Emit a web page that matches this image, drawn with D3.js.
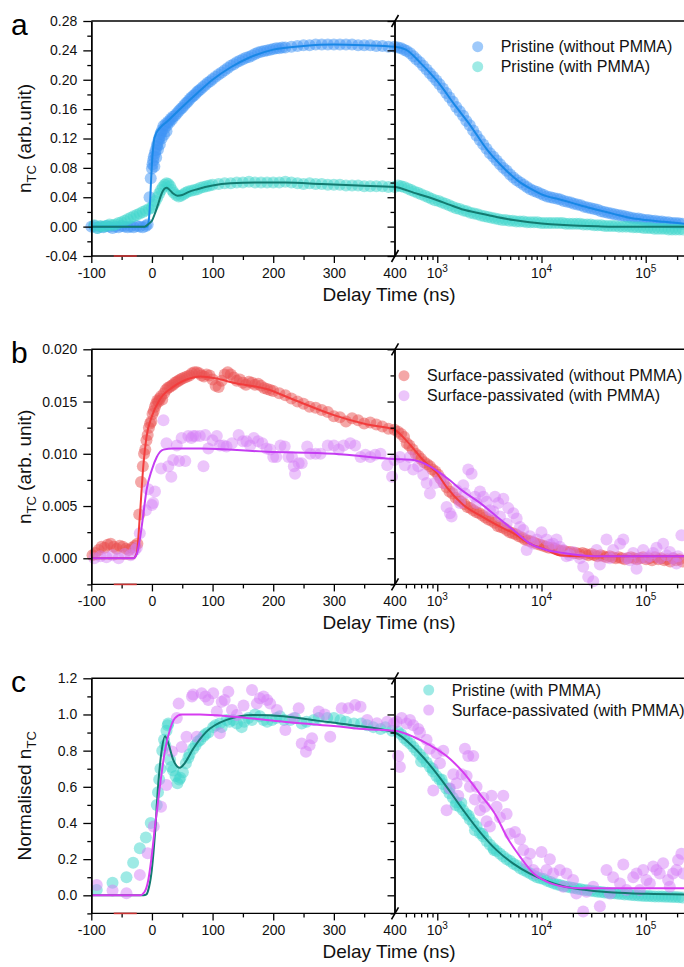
<!DOCTYPE html>
<html>
<head>
<meta charset="utf-8">
<script src="https://cdn.jsdelivr.net/npm/d3@7"></script>
<style>
  body { margin: 0; background: #fff; }
  svg { display: block; font-family: "Liberation Sans", Arial, sans-serif; }
</style>
</head>
<body>
<div id="chart"></div>
<script>
// ---- data: [delay time (ns), value] ----

// a: Pristine (without PMMA)
const aPristineNoPmma = [
  [-100,0.000],[-95,0.001],[-90,-0.002],[-85,0.000],[-80,-0.001],[-75,0.001],[-70,0.000],[-65,-0.002],
  [-60,0.000],[-55,-0.001],[-50,0.001],[-45,0.000],[-40,-0.001],[-35,0.000],[-30,-0.001],[-25,0.001],
  [-20,0.000],[-15,-0.001],[-10,0.001],[-7,0.003],
  [-4,0.040],[-2,0.066],[0,0.079],[1,0.085],[2,0.090],[3,0.095],[4,0.082],[5,0.100],[6,0.104],[7,0.094],
  [8,0.109],[9,0.113],[10,0.105],[11,0.118],[12,0.121],[13,0.112],[14,0.126],[15,0.128],[16,0.120],
  [17,0.132],[19,0.137],[20,0.125],[21,0.134],[23,0.140],[24,0.130],[25,0.138],[27,0.143],[29,0.142],
  [31,0.147],[33,0.146],[35,0.150],[38,0.151],[41,0.154],[44,0.157],[47,0.160],[50,0.162],[53,0.165],
  [56,0.168],[59,0.170],[62,0.173],[65,0.176],[68,0.178],[71,0.180],[74,0.183],[77,0.185],[80,0.187],
  [84,0.190],[88,0.193],[92,0.196],[96,0.198],[100,0.201],[105,0.204],[110,0.207],[115,0.210],[120,0.213],
  [125,0.216],[130,0.219],[135,0.221],[140,0.224],[145,0.226],[150,0.228],[155,0.230],[160,0.231],
  [165,0.233],[170,0.235],[175,0.237],[180,0.238],[185,0.239],[190,0.240],[195,0.241],[200,0.242],
  [205,0.243],[210,0.243],[215,0.244],[220,0.244],[230,0.245],[240,0.246],[250,0.247],[260,0.247],
  [270,0.248],[280,0.248],[290,0.248],[300,0.248],[310,0.248],[320,0.248],[330,0.248],[340,0.247],
  [350,0.247],[360,0.247],[370,0.246],[380,0.246],[390,0.245],[400,0.245],
  [420,0.244],[450,0.243],[480,0.241],[510,0.239],[550,0.236],[590,0.232],[630,0.228],[680,0.224],
  [730,0.219],[790,0.214],[850,0.209],[910,0.204],[980,0.199],[1050,0.194],[1130,0.188],[1220,0.182],
  [1310,0.176],[1410,0.170],[1520,0.163],[1640,0.157],[1770,0.151],[1900,0.144],[2050,0.138],[2210,0.131],
  [2380,0.124],[2560,0.118],[2760,0.112],[2970,0.106],[3200,0.100],[3450,0.095],[3710,0.090],[4000,0.085],
  [4300,0.080],[4640,0.076],[5000,0.071],[5380,0.067],[5800,0.063],[6250,0.060],[6730,0.057],[7250,0.054],
  [7810,0.051],[8410,0.049],[9060,0.047],[9760,0.045],[10500,0.043],[11300,0.041],[12200,0.040],
  [13100,0.039],[14200,0.038],[15200,0.037],[16400,0.035],[17700,0.034],[19100,0.033],[20500,0.031],
  [22100,0.030],[23800,0.029],[25700,0.027],[27700,0.026],[29800,0.025],[32100,0.024],[34600,0.023],
  [37300,0.021],[40200,0.020],[43300,0.019],[46700,0.018],[50300,0.017],[54200,0.016],[58400,0.015],
  [62900,0.014],[67800,0.013],[73000,0.012],[78700,0.011],[84800,0.011],[91400,0.010],[98500,0.009],
  [106000,0.009],[114000,0.008],[123000,0.008],[133000,0.007],[143000,0.007],[154000,0.006],
  [166000,0.006],[179000,0.005],[193000,0.005],[208000,0.0045],[224000,0.004]
];
const aPristineNoPmmaFit = [
  [-100,0],[-8,0],[-5,0.010],[-3,0.035],[-1,0.070],[1,0.098],[3,0.115],[6,0.125],[10,0.131],[15,0.136],
  [25,0.143],[35,0.151],[50,0.163],[75,0.182],[100,0.200],[130,0.217],[160,0.230],[200,0.241],[250,0.246],
  [300,0.248],[350,0.247],[400,0.245],[500,0.241],[700,0.222],[1000,0.198],[1500,0.164],[2000,0.141],
  [3000,0.105],[4000,0.085],[6000,0.062],[8000,0.051],[10000,0.044],[15000,0.037],[20000,0.032],
  [30000,0.025],[50000,0.017],[70000,0.012],[100000,0.009],[150000,0.0065],[233000,0.004]
];

// a: Pristine (with PMMA)
const aPristinePmma = [
  [-95,0.002],[-90,-0.002],[-85,0.001],[-80,0.000],[-75,0.001],[-70,0.003],[-65,0.002],[-60,0.003],
  [-55,0.005],[-50,0.006],[-45,0.008],[-40,0.010],[-35,0.012],[-30,0.014],[-25,0.016],[-20,0.018],
  [-15,0.020],[-10,0.022],[-5,0.024],[0,0.026],[3,0.030],[6,0.035],[9,0.040],[12,0.045],[15,0.050],
  [18,0.054],[21,0.057],[24,0.059],[27,0.058],[30,0.055],[33,0.050],[36,0.046],[40,0.043],[44,0.041],
  [48,0.042],[52,0.044],[56,0.046],[60,0.048],[65,0.049],[70,0.050],[75,0.051],[80,0.053],[85,0.054],
  [90,0.055],[95,0.056],[100,0.057],[110,0.058],[120,0.059],[130,0.059],[140,0.060],[150,0.060],
  [160,0.061],[170,0.060],[180,0.060],[190,0.060],[200,0.060],[210,0.060],[220,0.061],[230,0.060],
  [240,0.059],[250,0.058],[260,0.059],[270,0.058],[280,0.058],[290,0.057],[300,0.057],[310,0.057],
  [320,0.056],[330,0.056],[340,0.056],[350,0.055],[360,0.055],[370,0.055],[380,0.055],[390,0.054],
  [400,0.054],
  [420,0.056],[450,0.055],[480,0.054],[520,0.052],[560,0.050],[600,0.048],[650,0.046],[700,0.044],
  [760,0.042],[820,0.040],[880,0.038],[950,0.036],[1030,0.035],[1110,0.033],[1200,0.031],[1300,0.029],
  [1400,0.027],[1520,0.025],[1640,0.024],[1780,0.022],[1920,0.021],[2080,0.019],[2250,0.018],
  [2430,0.017],[2630,0.015],[2840,0.014],[3070,0.013],[3320,0.012],[3590,0.011],[3880,0.010],
  [4200,0.009],[4540,0.009],[4910,0.008],[5310,0.008],[5740,0.007],[6200,0.007],[6710,0.007],
  [7250,0.006],[7840,0.006],[8480,0.006],[9170,0.006],[9910,0.005],[10700,0.005],[11600,0.005],
  [12500,0.005],[13600,0.005],[14700,0.005],[15900,0.005],[17100,0.004],[18500,0.004],[20000,0.004],
  [21700,0.004],[23400,0.004],[25300,0.003],[27400,0.003],[29600,0.003],[32000,0.002],[34600,0.002],
  [37500,0.002],[40500,0.001],[43800,0.001],[47400,0.001],[51200,0.001],[55400,0.000],[59900,0.000],
  [64800,0.000],[70000,0.000],[75700,-0.001],[81900,-0.001],[88600,-0.001],[95800,-0.002],
  [104000,-0.002],[112000,-0.002],[121000,-0.003],[131000,-0.003],[142000,-0.003],[153000,-0.003],
  [166000,-0.004],[179000,-0.004],[194000,-0.004],[210000,-0.004],[227000,-0.004]
];
const aPristinePmmaFit = [
  [-100,0],[-12,0],[-5,0.004],[0,0.008],[5,0.018],[10,0.030],[15,0.043],[20,0.051],[24,0.053],[28,0.051],
  [35,0.045],[42,0.042],[50,0.043],[60,0.047],[75,0.051],[100,0.056],[130,0.059],[170,0.060],[220,0.060],
  [280,0.058],[340,0.056],[400,0.054],[600,0.046],[1000,0.036],[1300,0.030],[1800,0.023],[2600,0.018],
  [3700,0.013],[5400,0.009],[7700,0.006],[10000,0.0044],[15000,0.0025],[23000,0.0012],[35000,0.0004],
  [50000,0.0],[233000,0.0]
];

// b: Surface-passivated (without PMMA)
const bPassivNoPmma = [
  [-98,0.0003],[-93,0.0005],[-88,0.0008],[-83,0.0011],[-78,0.0010],[-73,0.0013],[-68,0.0014],[-63,0.0011],
  [-58,0.0009],[-53,0.0012],[-48,0.0011],[-43,0.0009],[-38,0.0008],[-33,0.0010],[-28,0.0012],[-24,0.0014],
  [-21,0.0042],[-18,0.0073],[-15,0.0088],[-13,0.0100],[-11,0.0104],[-9,0.0113],[-7,0.0118],[-5,0.0125],
  [-3,0.0129],[-1,0.0131],[1,0.0138],[3,0.0141],[5,0.0145],[7,0.0148],[9,0.0151],[11,0.0150],[13,0.0153],
  [15,0.0155],[17,0.0152],[20,0.0158],[23,0.0161],[26,0.0163],[29,0.0164],[32,0.0165],[35,0.0166],
  [38,0.0168],[41,0.0169],[44,0.0170],[47,0.0171],[50,0.0172],[54,0.0173],[58,0.0174],[62,0.0175],
  [66,0.0177],[70,0.0178],[74,0.0178],[78,0.0177],[82,0.0175],[86,0.0174],[90,0.0176],[95,0.0175],
  [100,0.0171],[105,0.0165],[110,0.0164],[115,0.0170],[120,0.0176],[125,0.0178],[130,0.0176],[135,0.0173],
  [140,0.0170],[145,0.0171],[150,0.0168],[155,0.0166],[160,0.0169],[165,0.0168],[170,0.0166],[175,0.0167],
  [180,0.0165],[185,0.0163],[190,0.0162],[195,0.0161],[200,0.0160],[210,0.0158],[220,0.0156],[230,0.0153],
  [240,0.0150],[250,0.0148],[260,0.0145],[270,0.0144],[280,0.0142],[290,0.0140],[300,0.0136],[310,0.0135],
  [320,0.0131],[330,0.0134],[340,0.0132],[350,0.0129],[360,0.0130],[370,0.0128],[380,0.0126],[390,0.0124],
  [400,0.0123],
  [420,0.0121],[450,0.0119],[480,0.0116],[510,0.0110],[540,0.0108],[580,0.0104],[620,0.0100],[660,0.0098],
  [700,0.0095],[750,0.0092],[800,0.0090],[850,0.0088],[900,0.0085],[960,0.0083],[1020,0.0080],[1080,0.0076],
  [1150,0.0072],[1230,0.0068],[1310,0.0064],[1400,0.0062],[1500,0.0058],[1600,0.0056],[1700,0.0054],
  [1820,0.0052],[1950,0.0049],[2080,0.0048],[2220,0.0046],[2380,0.0044],[2540,0.0043],[2720,0.0041],
  [2900,0.0039],[3100,0.0037],[3320,0.0036],[3550,0.0034],[3800,0.0031],[4060,0.0030],[4340,0.0029],
  [4640,0.0027],[4960,0.0025],[5300,0.0024],[5670,0.0023],[6060,0.0021],[6480,0.0020],[6930,0.0018],
  [7410,0.0017],[7920,0.0016],[8470,0.0015],[9060,0.0014],[9690,0.0013],[10400,0.0012],[11100,0.0011],
  [11800,0.0010],[12700,0.0010],[13500,0.0009],[14500,0.0008],[15500,0.0007],[16500,0.0007],[17700,0.0006],
  [18900,0.0006],[20200,0.0005],[21600,0.0005],[23100,0.0004],[24700,0.0005],[26400,0.0004],[28200,0.0003],
  [30200,0.0004],[32300,0.0003],[34500,0.0002],[36900,0.0003],[39400,0.0002],[42200,0.0001],[45100,0.0002],
  [48200,0.0001],[51600,0.0000],[55100,0.0001],[58900,0.0000],[63000,-0.0001],[67400,0.0000],[72100,0.0001],
  [77100,0.0000],[82400,-0.0001],[88100,0.0000],[94200,0.0001],[101000,-0.0001],[108000,0.0000],
  [115000,-0.0002],[123000,0.0001],[132000,-0.0001],[141000,0.0000],[151000,-0.0002],[161000,-0.0001],
  [172000,-0.0003],[184000,0.0000],[197000,-0.0002],[211000,-0.0001],[225000,-0.0003]
];
const bPassivNoPmmaFit = [
  [-100,0],[-31,0],[-25,0.0005],[-20,0.0040],[-14,0.0090],[-9,0.0116],[0,0.0136],[13,0.0152],[35,0.0164],
  [68,0.0173],[80,0.0174],[107,0.0172],[134,0.0168],[189,0.0162],[233,0.0152],[300,0.0137],[355,0.0128],
  [400,0.0123],[480,0.0115],[590,0.0105],[730,0.0094],[850,0.0088],[1000,0.0081],[1230,0.0068],
  [1780,0.0051],[2570,0.0041],[3710,0.0032],[5360,0.0024],[7750,0.0014],[11200,0.0008],[15000,0.0003],
  [23400,0.0002],[233000,0.0002]
];

// b: Surface-passivated (with PMMA)
const bPassivPmma = [
  [-95,0.0000],[-85,0.0002],[-75,0.0001],[-65,0.0003],[-55,0.0000],[-45,0.0004],[-35,0.0003],[-28,0.0008],
  [-25,0.0010],[-20,0.0024],[-10,0.0046],[-6,0.0066],[0,0.0051],[2,0.0053],[5,0.0064],[15,0.0086],
  [19,0.0132],[24,0.0110],[27,0.0088],[32,0.0078],[35,0.0094],[41,0.0108],[45,0.0093],[49,0.0115],
  [55,0.0093],[60,0.0117],[65,0.0115],[68,0.0117],[72,0.0117],[79,0.0117],[85,0.0088],[88,0.0118],
  [93,0.0105],[100,0.0113],[107,0.0117],[112,0.0108],[118,0.0108],[123,0.0107],[132,0.0110],[143,0.0118],
  [150,0.0112],[156,0.0112],[162,0.0108],[168,0.0115],[175,0.0112],[182,0.0110],[189,0.0105],[195,0.0104],
  [200,0.0097],[205,0.0097],[212,0.0108],[219,0.0107],[225,0.0097],[231,0.0097],[234,0.0088],[236,0.0081],
  [242,0.0091],[247,0.0091],[256,0.0107],[261,0.0100],[270,0.0100],[278,0.0100],[290,0.0108],[300,0.0108],
  [308,0.0104],[316,0.0108],[327,0.0110],[335,0.0108],[344,0.0097],[352,0.0099],[360,0.0097],[368,0.0099],
  [377,0.0100],[388,0.0089],[396,0.0078],
  [400,0.0094],[438,0.0097],[489,0.0089],[546,0.0097],[588,0.0085],[657,0.0088],[734,0.0080],[790,0.0072],
  [850,0.0062],[950,0.0072],[1061,0.0077],[1142,0.0072],[1229,0.0049],[1323,0.0043],[1373,0.0040],
  [1533,0.0065],[1650,0.0053],[1776,0.0070],[1843,0.0062],[1983,0.0085],[2135,0.0081],[2298,0.0059],
  [2383,0.0053],[2568,0.0064],[2765,0.0059],[2973,0.0054],[3200,0.0046],[3443,0.0045],[3576,0.0059],
  [3848,0.0053],[3997,0.0040],[4300,0.0057],[4630,0.0033],[4806,0.0048],[5370,0.0043],[5780,0.0038],
  [6220,0.0030],[6690,0.0027],[7206,0.0008],[7760,0.0021],[8346,0.0014],[9000,0.0018],[10000,0.0025],
  [11180,0.0018],[12030,0.0013],[12940,0.0014],[13950,0.0018],[14990,0.0011],[16160,0.0008],[17360,0.0002],
  [18710,0.0003],[20100,0.0006],[23400,0.0000],[25120,-0.0008],[28070,-0.0018],[31360,-0.0022],
  [33750,0.0008],[36310,-0.0006],[42050,0.0018],[45280,0.0000],[48700,0.0008],[56680,0.0014],
  [60920,0.0018],[65500,0.0000],[70550,-0.0002],[75830,0.0005],[81700,-0.0010],[87800,0.0000],
  [94600,0.0008],[101700,0.0000],[109600,0.0002],[117800,0.0005],[126900,0.0010],[136400,0.0000],
  [147000,0.0014],[158000,0.0003],[170300,0.0006],[182900,0.0000],[197200,-0.0005],[204400,0.0002],
  [220000,0.0022]
];
const bPassivPmmaFit = [
  [-100,0],[-31,0],[-25,0.0004],[-20,0.0018],[-14,0.0043],[-9,0.0065],[0,0.0085],[8,0.0097],[19,0.0104],
  [35,0.0105],[80,0.0105],[189,0.0102],[300,0.0100],[400,0.0095],[590,0.0094],[850,0.0088],[1230,0.0077],
  [1780,0.0064],[2570,0.0053],[3710,0.0040],[5360,0.0027],[7750,0.0014],[11200,0.0008],[16200,0.0005],
  [23400,0.0003],[35000,0.0002],[233000,0.0002]
];

// c: Pristine (with PMMA), normalised
const cPristinePmma = [
  [-91,0.03],[-65,0.07],[-42,0.10],[-31,0.18],[-20,0.26],[-10,0.32],[-2,0.40],[8,0.50],[10,0.57],[12,0.64],
  [14,0.70],[17,0.80],[20,0.86],[22,0.83],[24,0.91],[26,0.94],[27,0.95],[30,0.75],[32,0.71],[35,0.69],
  [39,0.66],[42,0.62],[45,0.64],[47,0.65],[51,0.68],[56,0.73],[60,0.76],[62,0.78],[68,0.81],[72,0.83],
  [76,0.85],[80,0.86],[85,0.88],[88,0.89],[93,0.90],[101,0.93],[105,0.94],[112,0.95],[115,0.93],[123,0.97],
  [128,0.96],[134,0.97],[140,0.95],[148,0.93],[152,0.96],[159,0.98],[165,0.97],[170,1.00],[178,0.99],
  [184,0.97],[190,0.96],[198,0.97],[205,0.98],[211,0.99],[218,0.97],[228,0.97],[236,0.98],[247,0.95],
  [255,0.96],[267,0.97],[275,0.98],[289,0.98],[300,0.98],[311,0.97],[320,0.96],[333,0.95],[345,0.95],
  [355,0.94],[365,0.93],[377,0.92],[385,0.93],[396,0.91],
  [420,0.905],[450,0.89],[480,0.87],[510,0.855],[550,0.84],[590,0.82],[630,0.80],[680,0.78],[700,0.74],
  [730,0.76],[790,0.735],[850,0.71],[900,0.70],[910,0.685],[980,0.66],[1050,0.64],[1100,0.64],[1130,0.615],
  [1220,0.59],[1300,0.59],[1310,0.565],[1410,0.54],[1500,0.50],[1520,0.515],[1640,0.49],[1700,0.51],
  [1770,0.47],[1900,0.45],[2000,0.44],[2050,0.42],[2210,0.40],[2300,0.36],[2380,0.38],[2560,0.345],
  [2700,0.34],[2760,0.325],[2970,0.30],[3200,0.28],[3450,0.26],[3500,0.25],[3710,0.245],[4000,0.23],
  [4300,0.215],[4640,0.20],[5000,0.19],[5380,0.175],[5800,0.165],[6250,0.15],[6730,0.14],[7250,0.13],
  [7810,0.12],[8410,0.11],[9060,0.10],[9760,0.095],[10500,0.09],[11300,0.08],[12200,0.073],[13100,0.066],
  [14200,0.06],[15200,0.056],[16400,0.05],[17700,0.047],[19100,0.043],[20500,0.04],[22100,0.036],
  [23800,0.033],[25700,0.03],[27700,0.028],[29800,0.025],[32100,0.022],[34600,0.02],[37300,0.018],
  [40200,0.016],[43300,0.014],[46700,0.012],[50300,0.011],[54200,0.009],[58400,0.007],[62900,0.005],
  [67800,0.004],[73000,0.002],[78700,0.0],[84800,-0.001],[91400,-0.002],[98500,-0.004],[106000,-0.004],
  [114000,-0.005],[123000,-0.006],[133000,-0.006],[143000,-0.007],[154000,-0.008],[166000,-0.008],
  [179000,-0.009],[193000,-0.010],[208000,-0.011],[224000,-0.012]
];
const cPristinePmmaFit = [
  [-100,0],[-14,0],[-9,0.005],[-6,0.03],[-1,0.12],[5,0.34],[10.5,0.62],[16,0.80],[21.5,0.88],[27,0.84],
  [35,0.75],[46,0.705],[54,0.73],[68,0.81],[90,0.905],[123,0.97],[167,0.997],[217,0.99],[272,0.966],
  [327,0.942],[400,0.90],[590,0.82],[850,0.72],[1230,0.60],[1780,0.47],[2570,0.35],[3710,0.25],
  [5360,0.175],[7750,0.12],[11200,0.08],[16200,0.05],[23400,0.033],[48800,0.015],[102000,0.008],
  [233000,0.005]
];

// c: Surface-passivated (with PMMA), normalised
const cPassivPmma = [
  [-91,0.057],[-65,0.026],[-42,0.011],[-20,0.113],[-7,0.232],[3,0.38],[15,0.49],[24,0.61],[33,0.795],
  [41,0.98],[44,1.06],[49,0.82],[57,0.877],[66,1.10],[68,1.11],[74,0.877],[82,1.117],[88,1.10],[93,1.08],
  [101,1.117],[107,1.016],[112,0.896],[115,1.07],[120,1.08],[126,1.126],[132,1.025],[140,0.997],[151,1.05],
  [165,1.135],[173,1.06],[178,1.09],[184,1.10],[190,1.08],[195,1.06],[206,1.025],[220,0.914],[233,0.979],
  [242,1.034],[247,0.84],[254,0.794],[260,0.83],[264,0.868],[275,1.016],[285,1.00],[294,0.877],[313,1.034],
  [324,1.034],[335,1.052],[344,1.043],[355,0.97],[371,0.951],[388,0.96],[399,0.951],
  [407,0.96],[422,0.77],[438,0.71],[455,0.98],[508,0.95],[547,0.97],[588,0.94],[657,0.92],[682,0.90],
  [790,0.86],[850,0.81],[915,0.58],[985,0.785],[1061,0.73],[1142,0.80],[1229,0.47],[1323,0.59],
  [1424,0.67],[1533,0.62],[1590,0.55],[1713,0.67],[1843,0.81],[1913,0.66],[1983,0.77],[2058,0.60],
  [2215,0.77],[2298,0.53],[2383,0.60],[2568,0.47],[2765,0.54],[2870,0.49],[2973,0.41],[3200,0.38],
  [3322,0.55],[3710,0.49],[3997,0.43],[4300,0.55],[4630,0.45],[4980,0.34],[5570,0.35],[6220,0.31],
  [6690,0.25],[7206,0.18],[7760,0.23],[8346,0.14],[9000,0.12],[10000,0.24],[11180,0.14],[12030,0.20],
  [12940,0.12],[14990,0.14],[16160,0.048],[17360,0.12],[20100,0.085],[21600,0.01],[25120,-0.09],
  [27050,0.02],[31360,0.048],[36310,-0.06],[42050,0.14],[45280,0.01],[48700,0.10],[56680,0.066],
  [60920,0.17],[65500,0.03],[75830,0.10],[81700,0.12],[87800,0.03],[94600,0.14],[101700,0.085],
  [109600,0.066],[117800,0.16],[126900,0.14],[136400,0.12],[147000,0.177],[164000,0.085],[170300,0.048],
  [182900,0.12],[197200,0.14],[204400,0.195],[220000,0.23],[230000,0.12]
];
const cPassivPmmaFit = [
  [-100,0],[-20,0],[-12,0.02],[-6,0.085],[-0.5,0.214],[5,0.38],[13,0.60],[21.5,0.80],[30,0.92],[38,0.98],
  [49,1.0],[79,1.0],[134,0.988],[189,0.97],[245,0.951],[300,0.936],[355,0.918],[400,0.91],[589,0.877],
  [850,0.83],[1229,0.77],[1776,0.68],[2568,0.56],[3710,0.435],[4630,0.325],[6220,0.214],[8350,0.122],
  [11200,0.076],[16200,0.048],[23400,0.039],[233000,0.039]
];

// axis ticks
const xLinTicks = [-100, 0, 100, 200, 300, 400];
const xLinMinor = [-50, 50, 150, 250, 350];
const xLogMajor = [1e3, 1e4, 1e5];
const xLogMinor = [500,600,700,800,900,2000,3000,4000,5000,6000,7000,8000,9000,
                   20000,30000,40000,50000,60000,70000,80000,90000,200000];
const aYTicks = [-0.04, 0, 0.04, 0.08, 0.12, 0.16, 0.20, 0.24, 0.28];
const aYMinor = [-0.02, 0.02, 0.06, 0.10, 0.14, 0.18, 0.22, 0.26];
const bYTicks = [0, 0.005, 0.010, 0.015, 0.020];
const bYMinor = [-0.0025, 0.0025, 0.0075, 0.0125, 0.0175];
const cYTicks = [0, 0.2, 0.4, 0.6, 0.8, 1.0, 1.2];
const cYMinor = [-0.1, 0.1, 0.3, 0.5, 0.7, 0.9, 1.1];
const redMarkRange = [-63, -25];

// ---- layout ----
const W = 684, H = 967;
const xLeft = 91.3;
const xLin = d3.scaleLinear().domain([-100, 400]).range([xLeft, 394.5]);
const xLog = d3.scaleLog().domain([400, 233000]).range([395.8, 684]);
const xBreak = xLin(400);
function xPos(t) { return t <= 400 ? xLin(t) : xLog(t); }

const svg = d3.select("#chart").append("svg")
  .attr("width", W).attr("height", H);

const panels = [
  {
    letter: "a", top: 21, bottom: 256, domain: [-0.04, 0.28],
    ticks: aYTicks, minor: aYMinor, fmt: d => d.toFixed(2),
    title: ["n", "TC", " (arb.unit)"],
    legend: { x: 477.7, y: 46.7 },
    series: [
      { name: "Pristine (without PMMA)", pts: aPristineNoPmma, fit: aPristineNoPmmaFit,
        color: "#3d94f5", alpha: 0.5, line: "#1887e6" },
      { name: "Pristine (with PMMA)", pts: aPristinePmma, fit: aPristinePmmaFit,
        color: "#3dd6cc", alpha: 0.5, line: "#137a70" }
    ]
  },
  {
    letter: "b", top: 349.3, bottom: 584.4, domain: [-0.0025, 0.020],
    ticks: bYTicks, minor: bYMinor, fmt: d => d.toFixed(3),
    title: ["n", "TC", " (arb. unit)"],
    legend: { x: 404, y: 375.7 },
    series: [
      { name: "Surface-passivated (without PMMA)", pts: bPassivNoPmma, fit: bPassivNoPmmaFit,
        color: "#ea4f4f", alpha: 0.5, line: "#f23c3c" },
      { name: "Surface-passivated (with PMMA)", pts: bPassivPmma, fit: bPassivPmmaFit,
        color: "#d57ff7", alpha: 0.45, line: "#c43cf2" }
    ]
  },
  {
    letter: "c", top: 678.3, bottom: 913.4, domain: [-0.1, 1.2],
    ticks: cYTicks, minor: cYMinor, fmt: d => d.toFixed(1),
    title: ["Normalised n", "TC", ""],
    legend: { x: 428.7, y: 690 },
    series: [
      { name: "Pristine (with PMMA)", pts: cPristinePmma, fit: cPristinePmmaFit,
        color: "#3dd6cc", alpha: 0.5, line: "#137a70" },
      { name: "Surface-passivated (with PMMA)", pts: cPassivPmma, fit: cPassivPmmaFit,
        color: "#d57ff7", alpha: 0.5, line: "#d63cf0" }
    ]
  }
];

function styleAxis(g) {
  g.selectAll(".domain").attr("stroke", "#000").attr("stroke-width", 1.4);
  g.selectAll(".tick line").attr("stroke", "#000").attr("stroke-width", 1.3);
  g.selectAll(".tick text").attr("fill", "#111").attr("font-size", 14)
    .attr("font-family", "Liberation Sans, Arial, sans-serif");
}

function drawPanel(p) {
  const g = svg.append("g");
  const y = d3.scaleLinear().domain(p.domain).range([p.bottom, p.top]);

  // scatter points
  p.series.forEach(s => {
    g.append("g").selectAll("circle").data(s.pts).join("circle")
      .attr("cx", d => xPos(d[0]))
      .attr("cy", d => y(d[1]))
      .attr("r", 6)
      .attr("fill", s.color)
      .attr("fill-opacity", s.alpha);
  });

  // fitted curves
  const line = d3.line()
    .x(d => xPos(d[0]))
    .y(d => y(d[1]))
    .curve(d3.curveMonotoneX);
  p.series.forEach(s => {
    g.append("path").datum(s.fit)
      .attr("d", line)
      .attr("fill", "none")
      .attr("stroke", s.line)
      .attr("stroke-width", 2);
  });

  // left axis
  g.append("g").attr("transform", `translate(${xLeft},0)`)
    .call(d3.axisLeft(y).tickValues(p.ticks).tickSize(8).tickSizeOuter(0).tickPadding(6).tickFormat(p.fmt))
    .call(styleAxis);
  g.append("g").attr("transform", `translate(${xLeft},0)`)
    .call(d3.axisLeft(y).tickValues(p.minor).tickSize(4).tickSizeOuter(0).tickFormat(""))
    .call(styleAxis);

  // break line with inward ticks
  g.append("g").attr("transform", `translate(${xBreak},0)`)
    .call(d3.axisLeft(y).tickValues(p.ticks).tickSize(7).tickSizeOuter(0).tickFormat(""))
    .call(styleAxis);
  g.append("g").attr("transform", `translate(${xBreak},0)`)
    .call(d3.axisLeft(y).tickValues(p.minor).tickSize(4).tickSizeOuter(0).tickFormat(""))
    .call(styleAxis);

  // bottom axes
  const bx = g.append("g").attr("transform", `translate(0,${p.bottom})`);
  bx.append("g")
    .call(d3.axisBottom(xLin).tickValues(xLinTicks.slice(0, 5)).tickSize(7).tickPadding(5).tickFormat(d => String(d)))
    .call(a => a.select(".domain").remove())
    .call(styleAxis);
  bx.append("g")
    .call(d3.axisBottom(xLin).tickValues(xLinMinor).tickSize(4).tickFormat(""))
    .call(a => a.select(".domain").remove())
    .call(styleAxis);
  bx.append("g")
    .call(d3.axisBottom(xLog).tickValues(xLogMajor).tickSize(7).tickFormat(""))
    .call(a => a.select(".domain").remove())
    .call(styleAxis);
  bx.append("g")
    .call(d3.axisBottom(xLog).tickValues(xLogMinor).tickSize(4).tickFormat(""))
    .call(a => a.select(".domain").remove())
    .call(styleAxis);

  // log tick labels with superscripts
  const lbl = bx.append("g").attr("font-size", 14).attr("fill", "#111").attr("text-anchor", "middle");
  lbl.append("text").attr("x", xBreak + 0.5).attr("y", 22).text("400");
  xLogMajor.forEach(v => {
    const t = lbl.append("text").attr("x", xLog(v)).attr("y", 22);
    t.append("tspan").text("10");
    t.append("tspan").attr("font-size", 10).attr("dy", -6).text(String(Math.round(Math.log10(v))));
  });

  // frame lines
  g.append("line").attr("x1", xLeft).attr("x2", W).attr("y1", p.bottom).attr("y2", p.bottom)
    .attr("stroke", "#000").attr("stroke-width", 1.4);
  g.append("line").attr("x1", xLeft).attr("x2", W).attr("y1", p.top).attr("y2", p.top)
    .attr("stroke", "#000").attr("stroke-width", 1.4);

  // break slashes
  [p.top, p.bottom].forEach(yy => {
    g.append("line")
      .attr("x1", xBreak - 3).attr("y1", yy + 6)
      .attr("x2", xBreak + 4).attr("y2", yy - 6)
      .attr("stroke", "#000").attr("stroke-width", 1.6);
  });

  // small red mark on the bottom axis
  g.append("line")
    .attr("x1", xLin(redMarkRange[0])).attr("x2", xLin(redMarkRange[1]))
    .attr("y1", p.bottom).attr("y2", p.bottom)
    .attr("stroke", "#c83232").attr("stroke-width", 1.6);

  // x title
  g.append("text").attr("x", 389).attr("y", p.bottom + 45)
    .attr("text-anchor", "middle").attr("font-size", 19).attr("fill", "#111")
    .text("Delay Time (ns)");

  // y title
  const cy = (p.top + p.bottom) / 2;
  const yt = g.append("text")
    .attr("transform", `translate(31,${cy}) rotate(-90)`)
    .attr("text-anchor", "middle").attr("font-size", 19).attr("fill", "#111");
  yt.append("tspan").text(p.title[0]);
  yt.append("tspan").attr("font-size", 13).attr("dy", 5).text(p.title[1]);
  if (p.title[2]) yt.append("tspan").attr("dy", -5).text(p.title[2]);

  // panel letter
  g.append("text").attr("x", 11).attr("y", p.top + 14)
    .attr("font-size", 30).attr("fill", "#000").text(p.letter);

  // legend
  p.series.forEach((s, i) => {
    const ly = p.legend.y + i * 20;
    g.append("circle").attr("cx", p.legend.x).attr("cy", ly).attr("r", 5.5)
      .attr("fill", s.color).attr("fill-opacity", s.alpha);
    g.append("text").attr("x", p.legend.x + 23).attr("y", ly + 5.5)
      .attr("font-size", 16).attr("fill", "#111").text(s.name);
  });
}

panels.forEach(drawPanel);
</script>
</body>
</html>
